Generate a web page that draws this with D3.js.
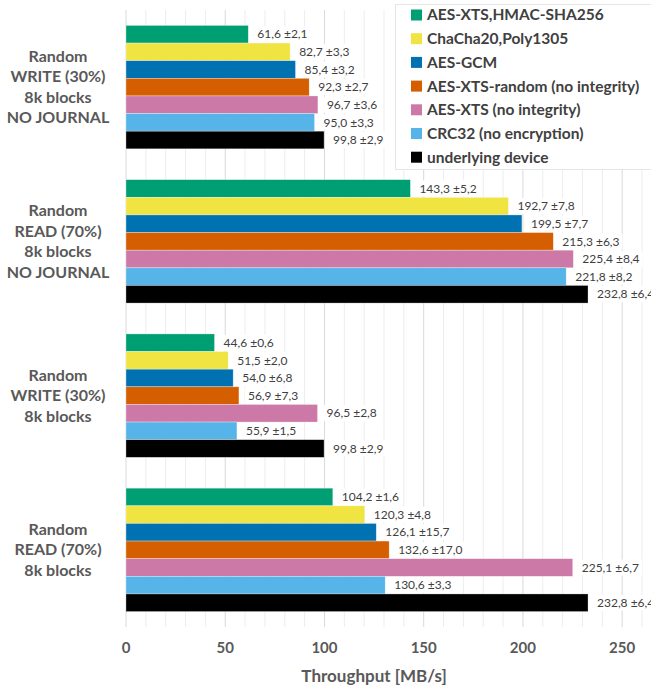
<!DOCTYPE html>
<html>
<head>
<meta charset="utf-8">
<script src="https://cdn.jsdelivr.net/npm/d3@7"></script>
<style>
  body { margin: 0; background: #fff; }
  text { font-family: Lato, "Open Sans", sans-serif; }
</style>
</head>
<body>
<div class="canvas"></div>
<script>
// data
const groups = [
    ['Random', 'WRITE (30%)', '8k blocks', 'NO JOURNAL'],
    ['Random', 'READ (70%)', '8k blocks', 'NO JOURNAL'],
    ['Random', 'WRITE (30%)', '8k blocks'],
    ['Random', 'READ (70%)', '8k blocks']
];
const series = ['AES-XTS,HMAC-SHA256', 'ChaCha20,Poly1305', 'AES-GCM',
    'AES-XTS-random (no integrity)', 'AES-XTS (no integrity)', 'CRC32 (no encryption)', 'underlying device'];
const colors = ['#009E73', '#F0E442', '#0072B2', '#D55E00', '#CC79A7', '#56B4E9', '#000000'];
const means = [
    [61.6, 82.7, 85.4, 92.3, 96.7, 95.0, 99.8],
    [143.3, 192.7, 199.5, 215.3, 225.4, 221.8, 232.8],
    [44.6, 51.5, 54.0, 56.9, 96.5, 55.9, 99.8],
    [104.2, 120.3, 126.1, 132.6, 225.1, 130.6, 232.8]
];
const errors = [
    [2.1, 3.3, 3.2, 2.7, 3.6, 3.3, 2.9],
    [5.2, 7.8, 7.7, 6.3, 8.4, 8.2, 6.4],
    [0.6, 2.0, 6.8, 7.3, 2.8, 1.5, 2.9],
    [1.6, 4.8, 15.7, 17.0, 6.7, 3.3, 6.4]
];
const xTicks = [0, 50, 100, 150, 200, 250];

const dims = { width: 651, height: 688 };
const plot = { left: 126, right: 642, top: 10, bottom: 627 };

const svg = d3.select('.canvas')
    .append('svg')
    .attr('width', dims.width)
    .attr('height', dims.height);

const x = d3.scaleLinear().domain([0, 260]).range([plot.left, plot.right]);
const y = d3.scaleBand().domain(d3.range(groups.length))
    .range([plot.top, plot.bottom]).paddingInner(0.2).paddingOuter(0.1);
const yInner = d3.scaleBand().domain(d3.range(series.length)).range([0, y.bandwidth()]);

// gridlines (minor every 10, major every 50)
svg.append('g').selectAll('line')
    .data(d3.range(0, 261, 10))
    .join('line')
    .attr('x1', d => x(d)).attr('x2', d => x(d))
    .attr('y1', plot.top).attr('y2', plot.bottom)
    .attr('stroke', d => d % 50 === 0 ? '#d9d9d9' : '#ededed')
    .attr('stroke-width', 1);

const fmt = v => d3.format('.1f')(v).replace('.', ',');

// bars
groups.forEach((g, gi) => {
    const grp = svg.append('g').attr('transform', `translate(0, ${y(gi)})`);
    grp.selectAll('rect')
        .data(means[gi])
        .join('rect')
        .attr('x', x(0))
        .attr('y', (d, i) => yInner(i))
        .attr('width', d => x(d) - x(0))
        .attr('height', yInner.bandwidth())
        .attr('fill', (d, i) => colors[i])
        .attr('stroke', '#fff')
        .attr('stroke-opacity', 0.5)
        .attr('stroke-width', 0.6);

    const labels = grp.selectAll('g.lbl')
        .data(means[gi])
        .join('g')
        .attr('class', 'lbl')
        .attr('transform', (d, i) => `translate(${x(d) + 9}, ${yInner(i) + yInner.bandwidth() / 2})`);
    labels.append('rect')
        .attr('x', -3).attr('y', -8)
        .attr('height', 16)
        .attr('fill', '#fff');
    labels.append('text')
        .attr('dy', '0.35em')
        .attr('font-size', 12)
        .attr('fill', '#404040')
        .text((d, i) => `${fmt(d)} ±${fmt(errors[gi][i])}`)
        .each(function() {
            const w = this.getComputedTextLength();
            d3.select(this.parentNode).select('rect').attr('width', w + 6);
        });

    // category label
    const cy = y(gi) + y.bandwidth() / 2;
    const lh = 20.5;
    svg.append('text')
        .attr('text-anchor', 'middle')
        .attr('font-size', 16)
        .attr('font-weight', 'bold')
        .attr('fill', '#595959')
        .selectAll('tspan')
        .data(g)
        .join('tspan')
        .attr('x', 58)
        .attr('y', (d, i) => cy + (i - (g.length - 1) / 2) * lh)
        .attr('dy', '0.35em')
        .text(d => d);
});

// x tick labels
svg.append('g').selectAll('text')
    .data(xTicks)
    .join('text')
    .attr('x', d => x(d))
    .attr('y', 648)
    .attr('dy', '0.35em')
    .attr('text-anchor', 'middle')
    .attr('font-size', 15)
    .attr('font-weight', 'bold')
    .attr('fill', '#595959')
    .text(d => d);

svg.append('text')
    .attr('x', (x(0) + x(250)) / 2)
    .attr('y', 676)
    .attr('dy', '0.35em')
    .attr('text-anchor', 'middle')
    .attr('font-size', 17)
    .attr('font-weight', 'bold')
    .attr('fill', '#595959')
    .text('Throughput [MB/s]');

// legend
const legend = svg.append('g');
legend.append('rect')
    .attr('x', 395.5).attr('y', 4.5)
    .attr('width', 270).attr('height', 165)
    .attr('fill', '#fff')
    .attr('stroke', '#e6e6e6');
const items = legend.selectAll('g.item')
    .data(series)
    .join('g')
    .attr('class', 'item')
    .attr('transform', (d, i) => `translate(411, ${15 + i * 23.7})`);
items.append('rect')
    .attr('x', 0).attr('y', -5.5)
    .attr('width', 11).attr('height', 11)
    .attr('fill', (d, i) => colors[i]);
items.append('text')
    .attr('x', 16)
    .attr('dy', '0.35em')
    .attr('font-size', 15.5)
    .attr('font-weight', 'bold')
    .attr('fill', '#404040')
    .text(d => d);
</script>
</body>
</html>
